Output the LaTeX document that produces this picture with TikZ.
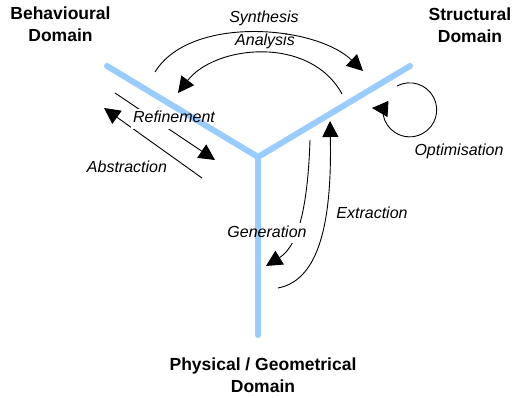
\documentclass[tikz,border=0pt]{standalone}
\usepackage{fontspec}
\setmainfont{Liberation Sans}
\usetikzlibrary{arrows.meta}
\definecolor{domblue}{HTML}{99CCFF}
\begin{document}
\begin{tikzpicture}[x=1pt,y=-1pt,
  conn/.style={line width=0.9pt,-{Triangle[length=16pt,width=16pt]}},
  plain/.style={line width=0.9pt},
  axisline/.style={draw=domblue,line width=6pt,line cap=round,line join=round},
  dom/.style={font=\fontsize{17.5}{22}\selectfont\bfseries,align=center,inner sep=0pt},
  lab/.style={font=\fontsize{16}{19}\selectfont\itshape,anchor=base,inner sep=0pt},
  mask/.style={fill=white,anchor=base,inner sep=2pt,font=\fontsize{16}{19}\selectfont\itshape,text height=12pt,text depth=4pt}]
\useasboundingbox (0,0) rectangle (513,398);
% axis end points
\coordinate (C) at (258,157);
\coordinate (L) at (107,66);
\coordinate (R) at (410,66);
\coordinate (B) at (258,335);
% connector end points
\coordinate (synS) at (155,72);
\coordinate (synE) at (363,71);
\coordinate (anaS) at (342,94);
\coordinate (anaE) at (178,93);
\coordinate (refS) at (115,93);
\coordinate (refE) at (215,160);
\coordinate (absS) at (202,178);
\coordinate (absE) at (104,108);
\coordinate (genS) at (310,140);
\coordinate (genE) at (266,266);
\coordinate (extS) at (278,288);
\coordinate (extE) at (330,121);
\coordinate (optS) at (397,86);
\coordinate (optB) at (388,109);
\coordinate (optT) at (372,108);
% connectors
\draw[conn] (synS) .. controls (190,15) and (315,25) .. (synE);
\draw[conn] (anaS) .. controls (310,35) and (215,45) .. (anaE);
\draw[conn] (refS) -- (refE);
\draw[conn] (absS) -- (absE);
\draw[conn] (genS) .. controls (308,200) and (300,245) .. (genE);
\draw[conn] (extS) .. controls (320,280) and (332,220) .. (extE);
\draw[plain] (optS) arc[start angle=-118,end angle=170,radius=27];
\draw[conn] (optB) -- (optT);
% white gaps behind labels that cut lines
\node[mask] (refmask) at (174,123) {\phantom{Refinement}};
\node[mask] (genmask) at (267,237) {\phantom{Generation}};
% the three domain axes
\draw[axisline] (L) -- (C) -- (R);
\draw[axisline] (C) -- (B);
% labels
\node[lab] (syn) at (264,23) {Synthesis};
\node[lab] (ana) at (265,46) {Analysis};
\node[lab] (ref) at (174,123) {Refinement};
\node[lab] (abs) at (127,172) {Abstraction};
\node[lab] (opt) at (459,155) {Optimisation};
\node[lab] (ext) at (372,218) {Extraction};
\node[lab] (gen) at (267,237) {Generation};
\node[dom] (beh) at (60.5,24.6) {Behavioural\\Domain};
\node[dom] (str) at (470,24.9) {Structural\\Domain};
\node[dom] (phy) at (263,375.6) {Physical / Geometrical\\Domain};
\end{tikzpicture}
\end{document}
